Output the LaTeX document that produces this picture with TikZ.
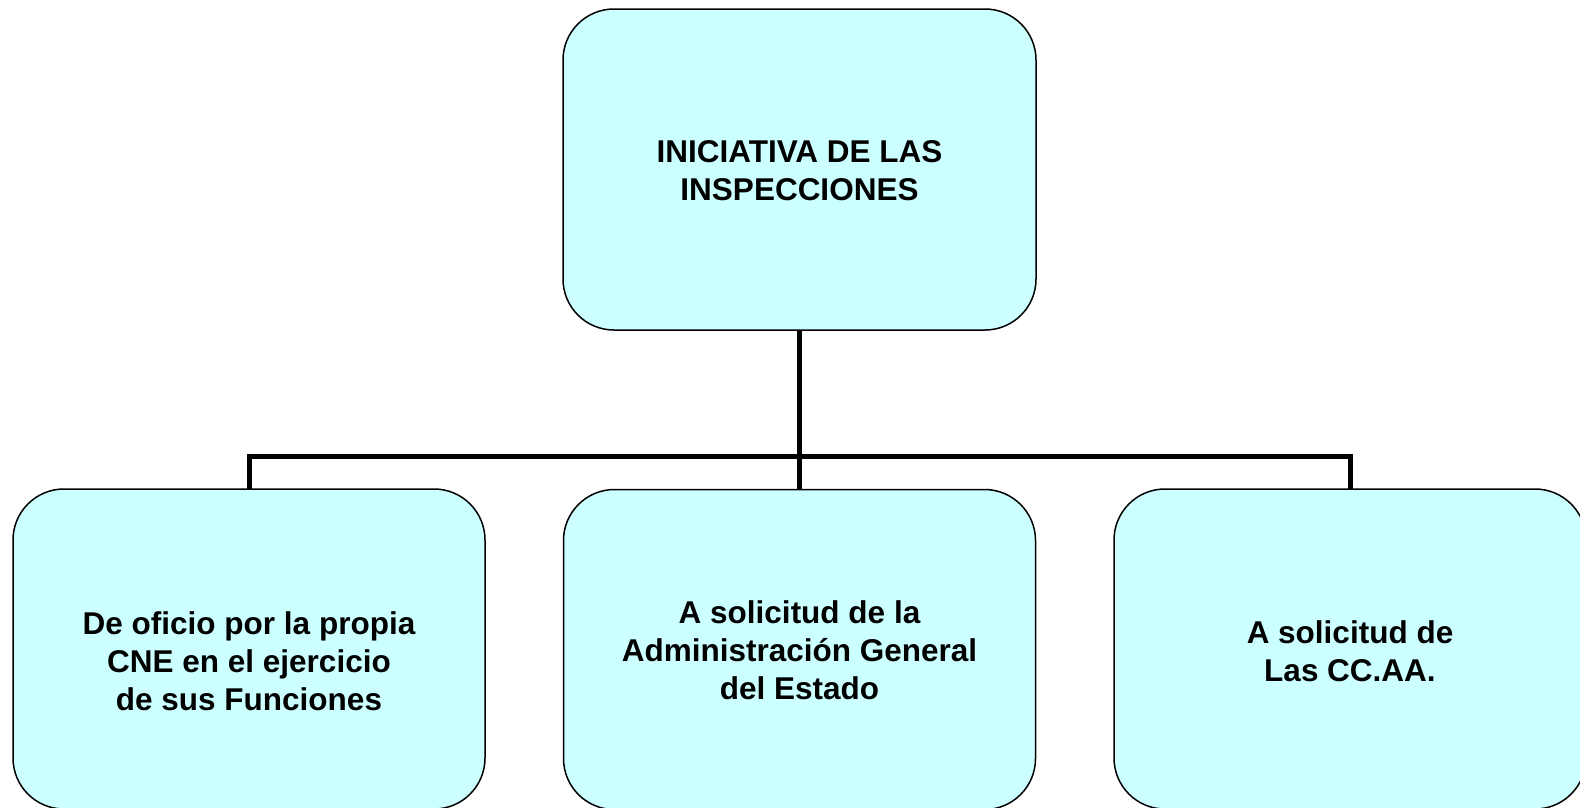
\documentclass[tikz,border=0pt]{standalone}
\usepackage{fontspec}
\setmainfont{Liberation Sans}
\definecolor{boxfill}{HTML}{CCFFFF}
\begin{document}
\begin{tikzpicture}[x=1pt,y=-1pt,
  box/.style={draw=black, line width=1.5pt, fill=boxfill, rectangle,
    rounded corners=51pt, minimum width=472pt, minimum height=320pt,
    inner sep=0pt, outer sep=0pt},
  label/.style={inner sep=0pt, align=center,
    font=\fontsize{31.5}{38}\selectfont\bfseries},
  conn/.style={line width=5pt, line join=miter}]
\clip (0,0) rectangle (1580,807);
\fill[white] (0,0) rectangle (1580,807);
% boxes
\node[box, minimum width=473pt, minimum height=321pt] (top) at (799.5,169.5) {};
\node[box] (left) at (249,649) {};
\node[box] (mid) at (799.5,649.5) {};
\node[box] (right) at (1350,649) {};
% connectors
\coordinate (bus) at (799.5,456);
\draw[conn] (top.south) -- (mid.north);
\draw[conn] (left.north) |- (bus) -| (right.north);
% texts
\node[label] (ttop) at (799.5,171) {INICIATIVA DE LAS\\INSPECCIONES};
\node[label] (tleft) at (249,661) {De oficio por la propia\\CNE en el ejercicio\hspace*{18pt}\\de sus Funciones};
\node[label] (tmid) at (799.5,650) {A solicitud de la\\Administración General\\del Estado};
\node[label] (tright) at (1350,651) {A solicitud de\\Las CC.AA.};
\end{tikzpicture}
\end{document}
